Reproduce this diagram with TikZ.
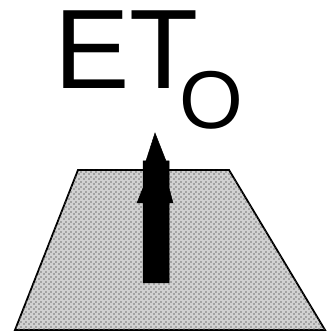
\documentclass[tikz,border=0pt]{standalone}
\usepackage{fontspec}
\setmainfont{Liberation Sans}
\usetikzlibrary{patterns}

% dotted screen of the plate
\pgfdeclarepatternformonly{platedots}{\pgfqpoint{0pt}{0pt}}{\pgfqpoint{4.5pt}{4.5pt}}{\pgfqpoint{4.5pt}{4.5pt}}{
  \pgfpathrectangle{\pgfqpoint{0.3pt}{0.3pt}}{\pgfqpoint{1.4pt}{1.4pt}}
  \pgfpathrectangle{\pgfqpoint{2.55pt}{2.55pt}}{\pgfqpoint{1.4pt}{1.4pt}}
  \pgfusepath{fill}
}

\tikzset{
  plate/.style={draw=black, line width=1.8pt, fill=black!18,
    postaction={pattern=platedots, pattern color=black!60}},
  bigarrow/.style={fill=black, draw=black, line width=0.5pt, line join=miter},
}

\begin{document}
\begin{tikzpicture}[x=1pt, y=1pt]
    \useasboundingbox (0,0) rectangle (326,334);

    % Plate
    \filldraw[plate] (15,4) -- (78,164) -- (229,164) -- (325,4) -- cycle;

    % Arrow
    \fill[bigarrow] (155,201) -- (166,173) -- (169,173) -- (169,146)
        -- (173,131) -- (169,131) -- (169,51) -- (143,51) -- (143,131)
        -- (137,131) -- (143,146) -- (143,173) -- (146,173) -- cycle;

    % Label
    \node[anchor=base west, inner sep=0pt, font=\fontsize{113}{113}\selectfont]
        (et) at (54,245) {ET};
    \node[anchor=base west, inner sep=0pt, font=\fontsize{82}{82}\selectfont]
        (sub) at (179,205) {O};
\end{tikzpicture}
\end{document}
